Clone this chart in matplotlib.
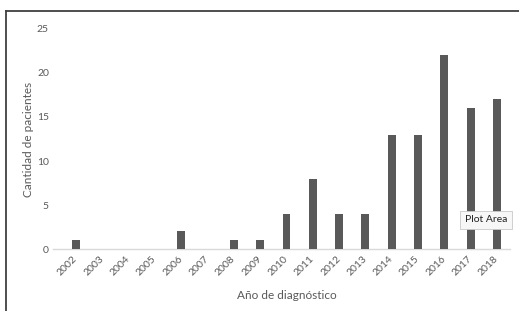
import matplotlib.pyplot as plt
from matplotlib.lines import Line2D

years = ['2002', '2003', '2004', '2005', '2006', '2007', '2008', '2009', '2010',
         '2011', '2012', '2013', '2014', '2015', '2016', '2017', '2018']
patients = [1, 0, 0, 0, 2, 0, 1, 1, 4, 8, 4, 4, 13, 13, 22, 16, 17]
y_ticks = [0, 5, 10, 15, 20, 25]

plt.rcParams['font.family'] = ['Lato', 'DejaVu Sans']
text_color = '#595959'

fig = plt.figure(figsize=(5.19, 3.11), dpi=100)
ax = fig.add_axes([0.121, 0.199, 0.862, 0.708])

ax.bar(range(len(years)), patients, width=0.3, color='#595959', zorder=2)
ax.set_xlim(-0.5, len(years) - 0.5)
ax.set_ylim(0, 25)
ax.set_yticks(y_ticks)
ax.set_xticks(range(len(years)))
ax.set_xticklabels(years, rotation=45, ha='right', va='center', rotation_mode='anchor')

for side in ['top', 'right', 'left', 'bottom']:
    ax.spines[side].set_visible(False)
ax.plot([-0.022, 1], [0, 0], transform=ax.transAxes, color='#d9d9d9',
        linewidth=1, clip_on=False, zorder=1)

ax.tick_params(axis='both', length=0, labelsize=7.5, colors=text_color)
ax.tick_params(axis='y', pad=10)
ax.tick_params(axis='x', pad=6)

ax.set_xlabel('Año de diagnóstico', fontsize=8.5, color=text_color, labelpad=9)
ax.set_ylabel('Cantidad de pacientes', fontsize=8.5, color=text_color, labelpad=2)

# outer frame (top and left edges of the screenshot)
fig.add_artist(Line2D([6 / 519, 6 / 519], [0, 1 - 11 / 311], color='#404040', linewidth=1.3))
fig.add_artist(Line2D([6 / 519, 1], [1 - 11 / 311, 1 - 11 / 311], color='#404040', linewidth=1.3))

fig.text(486 / 519, 1 - 220 / 311, 'Plot Area', fontsize=7.5, color='#222222',
         ha='center', va='center',
         bbox=dict(boxstyle='square,pad=0.45', facecolor='#f7f7f7', edgecolor='#c8c8c8', linewidth=0.6))

fig.savefig('out.png', dpi=100)
